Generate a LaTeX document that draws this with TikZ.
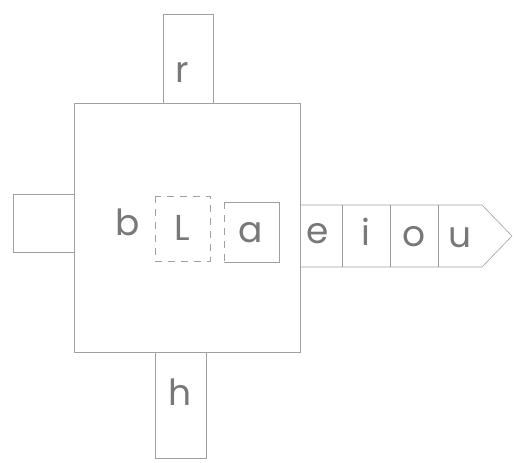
\documentclass[tikz,border=0pt]{standalone}
\usepackage{fontspec}
\setmainfont{Poppins}
\usetikzlibrary{positioning}

\definecolor{pencil}{RGB}{160,160,160}
\definecolor{lead}{RGB}{120,120,120}

\newcommand{\var}{
\def\xl{74}    % main frame, left
\def\xr{300}   % main frame, right
\def\yt{103}   % main frame, top
\def\yb{352}   % main frame, bottom
\def\yst{205}  % strip, top
\def\ysb{267}  % strip, bottom
}
\newcommand{\scl}{1pt}

\tikzset{
  sketch/.style={draw=pencil, line width=0.6pt},
  broken/.style={dash pattern=on 7pt off 6pt},
  letter/.style={text=lead, inner sep=0pt, font=\fontsize{36}{42}\selectfont},
}

\begin{document}
\begin{tikzpicture}[x=\scl,y=-\scl]
  \var
  \useasboundingbox (0,0) rectangle (514,463);
%
  \draw[sketch] (\xl,\yt) rectangle (\xr,\yb);
  \draw[sketch] (163,14) rectangle (213,\yt);
  \draw[sketch] (155,\yb) rectangle (206,458);
  \draw[sketch] (13,194) rectangle (\xl,252);
  % letter boxes
  \draw[sketch,broken] (155,196) rectangle (210,261);
  \draw[sketch] (224,202) -- (279,202) -- (279,262) -- (224,262);
  \draw[sketch,broken] (224,202) -- (224,262);
  % vowel strip
  \draw[sketch] (\xr,\yst) -- (482,\yst) -- (512,236) -- (482,\ysb) -- (\xr,\ysb);
  \foreach \x in {342,390,438}
    \draw[sketch] (\x,\yst) -- (\x,\ysb);
%
  \node[letter] (r) at (182,72) {r};
  \node[letter] (h) at (180,392) {h};
  \node[letter] (b) at (128,222) {b};
  \node[letter] (L) at (182,228) {L};
  \node[letter] (a) at (251,233) {a};
  \node[letter] (e) at (318,234) {e};
  \node[letter] (i) at (366,232) {i};
  \node[letter] (o) at (414,237) {o};
  \node[letter] (u) at (460,238) {u};
\end{tikzpicture}
\end{document}
